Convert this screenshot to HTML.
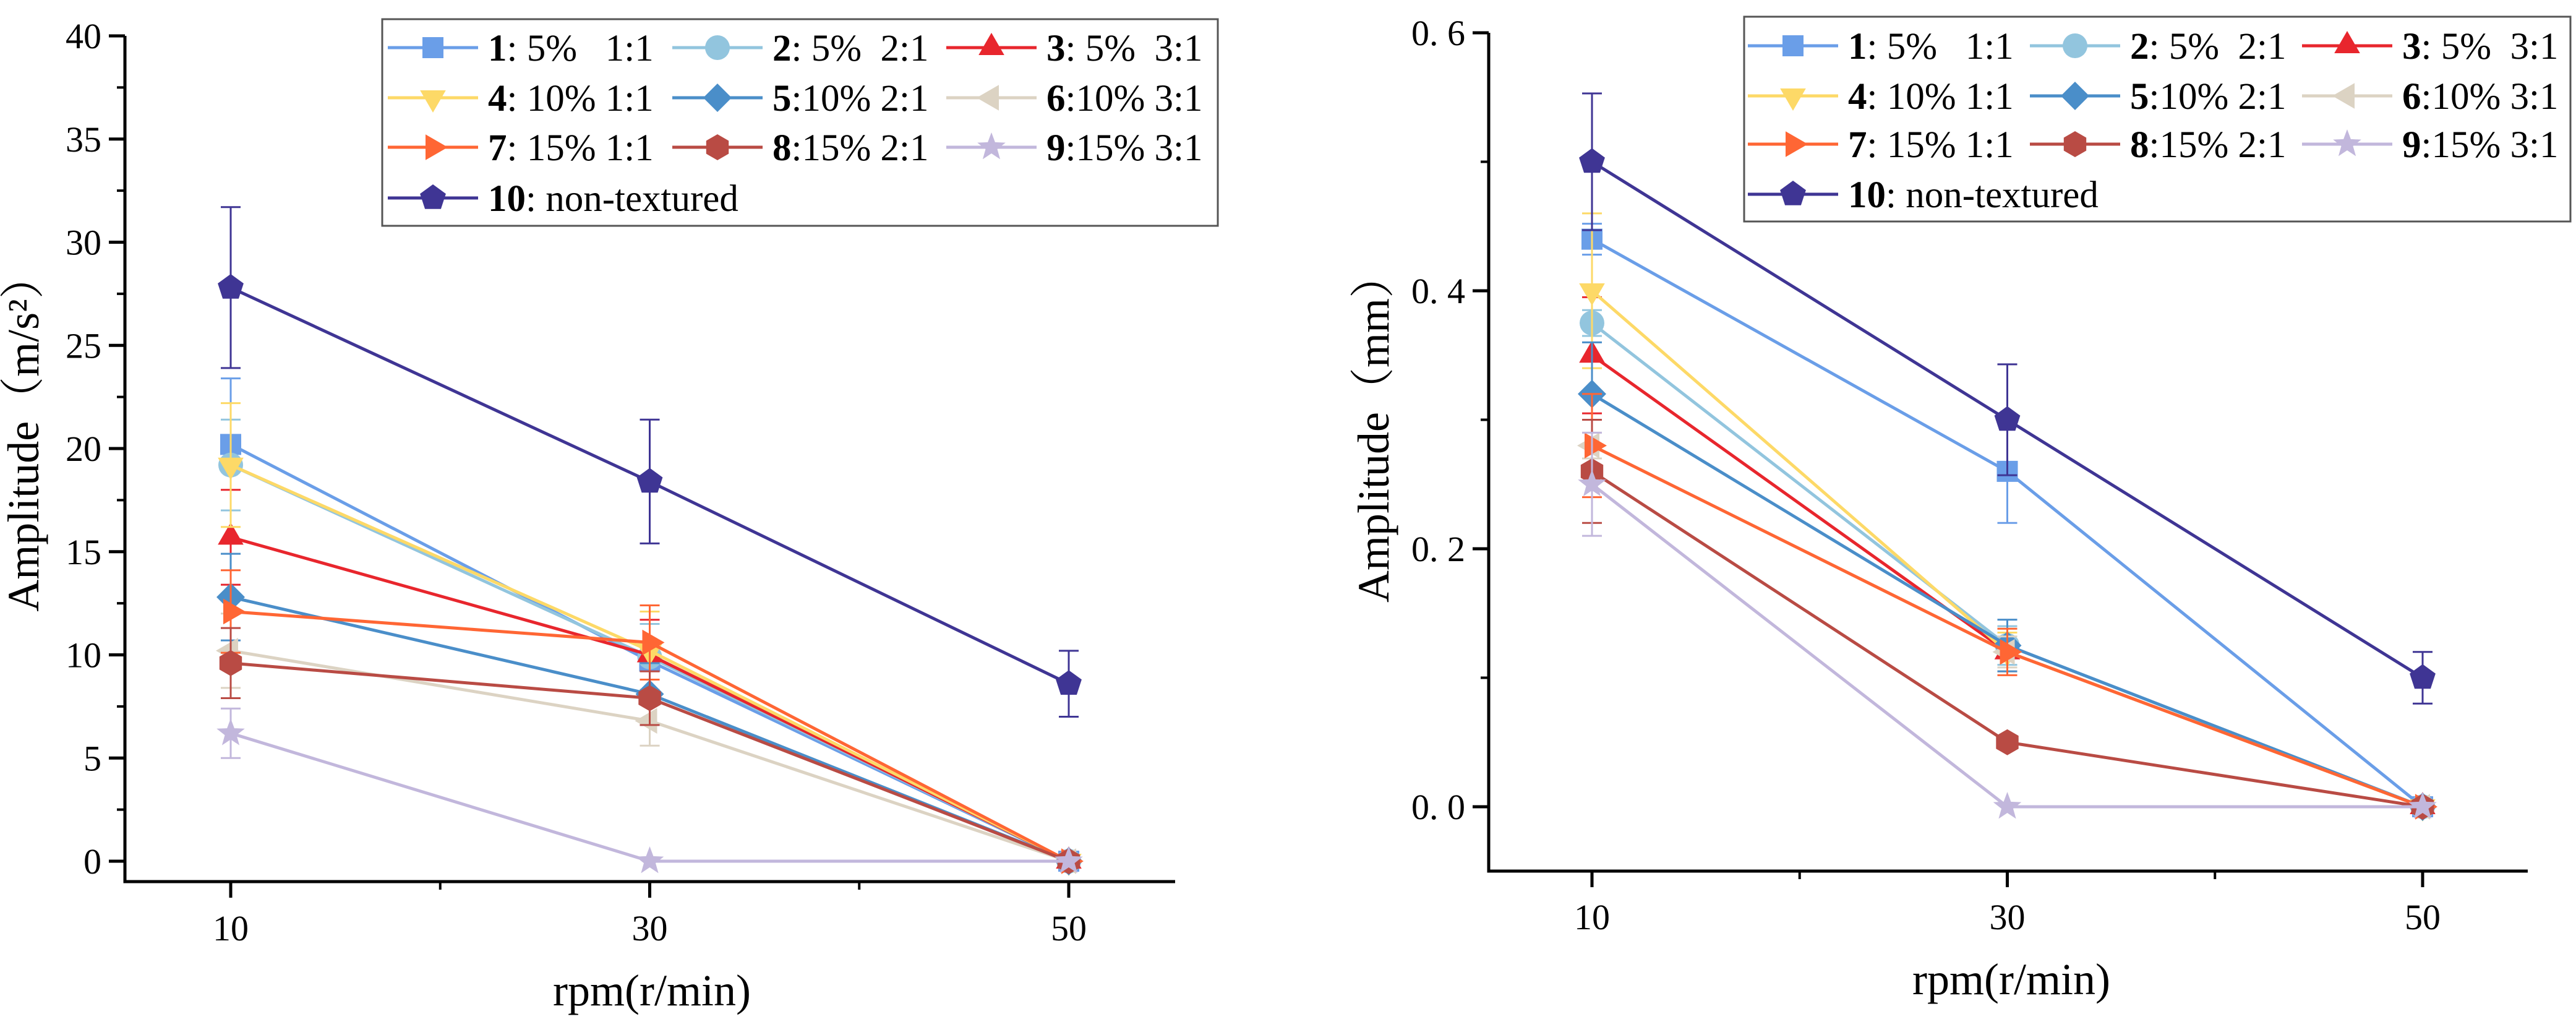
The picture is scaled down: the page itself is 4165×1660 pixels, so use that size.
<!DOCTYPE html>
<html><head><meta charset="utf-8"><style>
html,body{margin:0;padding:0;background:#fff;}
svg{display:block;}
text{font-family:"Liberation Serif","Noto Serif CJK SC",serif;fill:#000;}
</style></head>
<body>
<svg id="fig" width="4165" height="1660" viewBox="0 0 4165 1660" xmlns="http://www.w3.org/2000/svg" font-family="'Liberation Serif','Noto Serif CJK SC',serif"></svg>
<script>
const xCats=[10,30,50];
const seriesNames=["1","2","3","4","5","6","7","8","9","10"];
const seriesLabels=[": 5%   1:1",": 5%  2:1",": 5%  3:1",": 10% 1:1",":10% 2:1",":10% 3:1",": 15% 1:1",":15% 2:1",":15% 3:1",": non-textured"];
const colors=["#6a9ee8","#92c5de","#e8262d","#fdd967","#4a8ec9","#dcd3c3","#ff6634","#b94b44","#c2b7dc","#3f3594"];
const markers=["square","circle","up","down","diamond","left","right","hex","star","pent"];
// left chart: acceleration amplitude (m/s²)
const accVals=[[20.2,9.7,0],[19.2,9.9,0],[15.7,10.0,0],[19.2,10.2,0],[12.8,8.1,0],[10.2,6.8,0],[12.1,10.6,0],[9.6,7.9,0],[6.2,0,0],[27.8,18.4,8.6]];
const accErr=[[3.2,1.8,0],[2.2,1.6,0],[2.3,1.7,0],[3.0,1.9,0],[2.1,1.5,0],[1.8,1.2,0],[2.0,1.8,0],[1.7,1.3,0],[1.2,0,0],[3.9,3.0,1.6]];
const accTicks=[0,5,10,15,20,25,30,35,40];
// right chart: displacement amplitude (mm)
const dispVals=[[0.44,0.26,0],[0.375,0.125,0],[0.35,0.12,0],[0.40,0.12,0],[0.32,0.125,0],[0.28,0.12,0],[0.28,0.12,0],[0.26,0.05,0],[0.25,0,0],[0.50,0.30,0.10]];
const dispErr=[[0.012,0.04,0],[0.01,0.015,0],[0.045,0.015,0],[0.06,0.015,0],[0.04,0.02,0],[0.01,0.012,0],[0.04,0.018,0],[0.04,0.005,0],[0.04,0,0],[0.053,0.043,0.02]];
const dispTicks=[0,0.2,0.4,0.6];
const dispTickLabels=["0. 0","0. 2","0. 4","0. 6"];

const NS="http://www.w3.org/2000/svg";
const FONT="'Liberation Serif','Noto Serif CJK SC',serif";
const svg=document.getElementById('fig');
function mk(tag,attrs,parent){const e=document.createElementNS(NS,tag);for(const k in attrs)e.setAttribute(k,attrs[k]);if(tag==='text')e.setAttribute('font-family',FONT);(parent||svg).appendChild(e);return e;}

function markerPath(type,cx,cy,r){
  const poly=(n,rot,rr)=>{let p=[];for(let i=0;i<n;i++){const a=rot+i*2*Math.PI/n;p.push((cx+rr*Math.cos(a)).toFixed(1)+','+(cy+rr*Math.sin(a)).toFixed(1));}return 'M'+p.join('L')+'Z';};
  switch(type){
    case 'square':return `M${cx-r*0.85},${cy-r*0.85}h${1.7*r}v${1.7*r}h${-1.7*r}Z`;
    case 'circle':return `M${cx-r},${cy}a${r},${r} 0 1,0 ${2*r},0a${r},${r} 0 1,0 ${-2*r},0Z`;
    case 'up':return poly(3,-Math.PI/2,r*1.2);
    case 'down':return poly(3,Math.PI/2,r*1.2);
    case 'left':return poly(3,Math.PI,r*1.2);
    case 'right':return poly(3,0,r*1.2);
    case 'diamond':return poly(4,-Math.PI/2,r*1.15);
    case 'hex':return poly(6,-Math.PI/2,r*1.05);
    case 'pent':return poly(5,-Math.PI/2,r*1.1);
    case 'star':{let p=[];for(let i=0;i<10;i++){const a=-Math.PI/2+i*Math.PI/5;const rr=i%2?r*0.5:r*1.2;p.push((cx+rr*Math.cos(a)).toFixed(1)+','+(cy+rr*Math.sin(a)).toFixed(1));}return 'M'+p.join('L')+'Z';}
  }
}

function drawChart(cfg){
  const g=mk('g',{});
  
  
  const X=v=>cfg.x0+(v-xCats[0])/(xCats[2]-xCats[0])*(cfg.x1-cfg.x0);
  const Y=v=>cfg.y0+(v-cfg.ymin)/(cfg.ymax-cfg.ymin)*(cfg.y1-cfg.y0);
  const ax=mk('path',{d:`M${cfg.ax},${Y(cfg.ymax)}V${cfg.axy}H${cfg.axEnd}`,fill:'none',stroke:'#000','stroke-width':5},g);
  
  
  cfg.ticks.forEach((t,i)=>{
    const y=Y(t);
    mk('line',{x1:cfg.ax-26,x2:cfg.ax,y1:y,y2:y,stroke:'#000','stroke-width':5},g);
    if(i<cfg.ticks.length-1){const ym=Y((t+cfg.ticks[i+1])/2);mk('line',{x1:cfg.ax-13,x2:cfg.ax,y1:ym,y2:ym,stroke:'#000','stroke-width':4},g);}
    const tl=mk('text',{x:cfg.ax-38,y:y+20,'text-anchor':'end','font-size':58},g);
    tl.textContent=cfg.tickLabels[i];
    
    
  });
  xCats.forEach((c,i)=>{
    const x=X(c);
    mk('line',{x1:x,x2:x,y1:cfg.axy,y2:cfg.axy+26,stroke:'#000','stroke-width':5},g);
    if(i<2){const xm=X((c+xCats[i+1])/2);mk('line',{x1:xm,x2:xm,y1:cfg.axy,y2:cfg.axy+13,stroke:'#000','stroke-width':4},g);}
    const tl=mk('text',{x:x,y:cfg.xLabY,'text-anchor':'middle','font-size':58},g);
    tl.textContent=c;
    
    
  });
  const xt=mk('text',{x:cfg.xtX,y:cfg.xtY,'text-anchor':'middle','font-size':72},g);
  xt.textContent='rpm(r/min)';
  
  
  const yt=mk('text',{x:0,y:0,'text-anchor':'middle','font-size':72,transform:`translate(${cfg.ytX},${cfg.ytY}) rotate(-90)`},g);
  yt.textContent=cfg.ytitle;
  
  
  for(let s=0;s<cfg.vals.length;s++){
    const sg=mk('g',{},g);
    
    
    const v=cfg.vals[s],e=cfg.err[s];
    xCats.forEach((c,i)=>{
      if(e[i]>0){const x=X(c);
        mk('path',{d:`M${x},${Y(v[i]+e[i])}V${Y(v[i]-e[i])}M${x-16},${Y(v[i]+e[i])}h32M${x-16},${Y(v[i]-e[i])}h32`,stroke:colors[s],'stroke-width':3,fill:'none'},sg);}
    });
    const ln=mk('polyline',{points:xCats.map((c,i)=>X(c)+','+Y(v[i])).join(' '),fill:'none',stroke:colors[s],'stroke-width':5},sg);
    
    
    xCats.forEach((c,i)=>{
      const m=mk('path',{d:markerPath(markers[s],X(c),Y(v[i]),20),fill:colors[s]},sg);
      
      
    });
  }
  const lg=mk('g',{},g);
  
  
  mk('rect',{x:cfg.lg.x,y:cfg.lg.y,width:cfg.lg.w,height:cfg.lg.h,fill:'#fff',stroke:'#555','stroke-width':3},lg);
  for(let s=0;s<10;s++){
    const col=s<9?s%3:0,row=s<9?Math.floor(s/3):3;
    const lx=cfg.lg.cols[col],ly=cfg.lg.rows[row];
    const en=mk('g',{},lg);
    
    
    mk('line',{x1:lx,x2:lx+146,y1:ly,y2:ly,stroke:colors[s],'stroke-width':5},en);
    mk('path',{d:markerPath(markers[s],lx+73,ly,20),fill:colors[s]},en);
    const t=mk('text',{x:lx+162,y:ly+21,'font-size':61},en);
    t.setAttribute('style','white-space:pre');
    const b=mk('tspan',{'font-weight':'bold'},t);b.textContent=seriesNames[s];
    const r=mk('tspan',{},t);r.textContent=seriesLabels[s];
  }
}

drawChart({name:'acceleration-chart',x0:373,x1:1728,ymin:0,ymax:40,y0:1392,y1:58,ax:202,axy:1425,axEnd:1900,
  ticks:accTicks,tickLabels:accTicks.map(String),vals:accVals,err:accErr,
  xLabY:1520,xtX:1054,xtY:1625,ytX:62,ytY:700,ytitle:'Amplitude（m/s²）',
  lg:{x:618,y:31,w:1351,h:334,cols:[627,1087,1530],rows:[77,158,238,320]}});
drawChart({name:'displacement-chart',x0:2574,x1:3917,ymin:0,ymax:0.6,y0:1304,y1:53,ax:2407,axy:1408,axEnd:4087,
  ticks:dispTicks,tickLabels:dispTickLabels,vals:dispVals,err:dispErr,
  xLabY:1502,xtX:3252,xtY:1607,ytX:2245,ytY:692,ytitle:'Amplitude（mm）',
  lg:{x:2820,y:27,w:1336,h:331,cols:[2826,3282,3722],rows:[74,155,233,314]}});
</script>
</body></html>
